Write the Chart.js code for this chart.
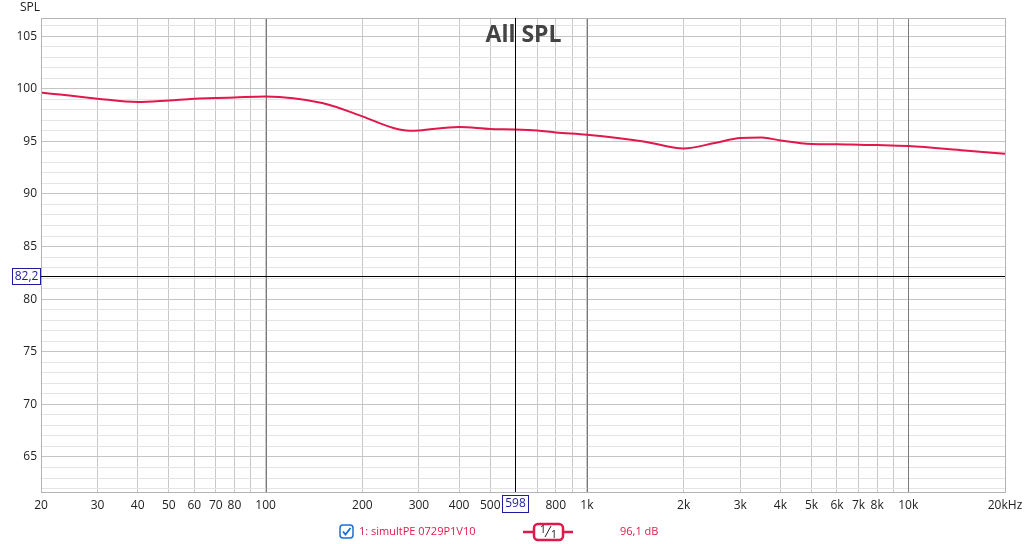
<!DOCTYPE html>
<html>
<head>
<meta charset="utf-8">
<script src="https://cdn.jsdelivr.net/npm/chart.js@4"></script>
<style>
  html, body { margin: 0; padding: 0; background: #fff; }
  canvas { display: block; }
</style>
</head>
<body>
<canvas id="c" width="1024" height="544"></canvas>
<script>
// ── Data ────────────────────────────────────────────────────────────────────
const freqs = [20, 30, 40, 50, 60, 70, 80, 100, 150, 200, 250, 280, 300, 400, 500, 598,
               700, 800, 1000, 1500, 2000, 2500, 3000, 3500, 4000, 5000, 6000, 7000, 8000,
               10000, 15000, 20000];
const spl   = [99.65, 99.05, 98.73, 98.89, 99.05, 99.11, 99.17, 99.27, 98.64, 97.37, 96.26, 96.0, 96.03, 96.36, 96.17, 96.13,
               96.03, 95.84, 95.62, 94.99, 94.32, 94.84, 95.31, 95.37, 95.08, 94.74, 94.71, 94.67, 94.64,
               94.55, 94.13, 93.82];

const xTicks  = [20, 30, 40, 50, 60, 70, 80, 90, 100, 200, 300, 400, 500, 600, 700, 800, 900,
                 1000, 2000, 3000, 4000, 5000, 6000, 7000, 8000, 9000, 10000, 20000];
const xLabels = ['20', '30', '40', '50', '60', '70', '80', '', '100', '200', '300', '400', '500', '', '', '800', '',
                 '1k', '2k', '3k', '4k', '5k', '6k', '7k', '8k', '', '10k', '20kHz'];
const yTicks  = [];
for (let v = 62; v <= 106; v++) yTicks.push(v);

const cursorX = 598;     // Hz
const cursorY = 82.2;    // dB
const seriesName = '1: simultPE 0729P1V10';
const cursorValue = '96,1 dB';
const RED = '#e0184c';
const FONT = '"Open Sans", "Noto Sans", sans-serif';

// ── Overlay: frame, decade lines, cursors, title, legend ────────────────────
const overlay = {
  id: 'overlay',
  beforeDatasetsDraw(chart) {
    const { ctx, chartArea: a, scales: { x } } = chart;
    ctx.save();
    ctx.strokeStyle = '#7a7a7a';
    ctx.lineWidth = 1;
    ctx.beginPath();
    [100, 1000, 10000].forEach(v => {
      const px = Math.round(x.getPixelForValue(v)) + 0.5;
      ctx.moveTo(px, a.top); ctx.lineTo(px, a.bottom);
    });
    ctx.stroke();
    ctx.restore();
  },
  afterDatasetsDraw(chart) {
    const { ctx, chartArea: a, scales: { x, y } } = chart;
    ctx.save();
    // frame
    ctx.strokeStyle = '#b4b4b4';
    ctx.lineWidth = 1;
    ctx.strokeRect(a.left + 0.5, a.top + 0.5, a.right - a.left, a.bottom - a.top);

    // cursors
    const cx = Math.round(x.getPixelForValue(cursorX)) + 0.5;
    const cy = Math.round(y.getPixelForValue(cursorY)) + 0.5;
    ctx.strokeStyle = '#000';
    ctx.beginPath();
    ctx.moveTo(cx, a.top); ctx.lineTo(cx, a.bottom);
    ctx.moveTo(a.left, cy); ctx.lineTo(a.right, cy);
    ctx.stroke();

    // title
    ctx.fillStyle = '#444';
    ctx.font = 'bold 23px ' + FONT;
    ctx.textAlign = 'center';
    ctx.textBaseline = 'middle';
    ctx.fillText('All SPL', cx + 8, 35);

    // axis name
    ctx.fillStyle = '#222';
    ctx.font = '12px ' + FONT;
    ctx.textAlign = 'left';
    ctx.fillText('SPL', 20, 8);

    // cursor boxes
    ctx.font = '12px ' + FONT;
    ctx.lineWidth = 1;
    ctx.strokeStyle = '#1c1ca0';
    ctx.fillStyle = '#fff';
    ctx.fillRect(12, cy - 8, 28, 16);
    ctx.strokeRect(12.5, cy - 8, 28, 16);
    ctx.fillStyle = '#1c1ca0';
    ctx.textAlign = 'center';
    ctx.fillText('82,2', 26.5, cy);
    ctx.fillStyle = '#fff';
    ctx.fillRect(cx - 13, 495, 26, 17);
    ctx.strokeRect(cx - 13, 495.5, 26, 17);
    ctx.fillStyle = '#1c1ca0';
    ctx.fillText('598', cx, 504);

    // legend: checkbox
    const ly = 532;
    ctx.strokeStyle = '#1a6fd6';
    ctx.lineWidth = 1.5;
    ctx.beginPath();
    ctx.roundRect(340, ly - 7, 13, 13, 3);
    ctx.stroke();
    ctx.lineWidth = 1.8;
    ctx.beginPath();
    ctx.moveTo(343, ly - 0.5); ctx.lineTo(345.5, ly + 2.5); ctx.lineTo(350.5, ly - 4);
    ctx.stroke();

    ctx.fillStyle = RED;
    ctx.textAlign = 'left';
    ctx.font = '11px ' + FONT;
    ctx.fillText(seriesName, 359, ly);

    // line sample with 1/1 smoothing box
    ctx.strokeStyle = RED;
    ctx.lineWidth = 2.5;
    ctx.beginPath();
    ctx.moveTo(523, ly); ctx.lineTo(573, ly);
    ctx.stroke();
    ctx.fillStyle = '#fff';
    ctx.beginPath();
    ctx.roundRect(534, ly - 8, 29, 16, 4);
    ctx.fill();
    ctx.stroke();
    ctx.fillStyle = '#222';
    ctx.font = '11px ' + FONT;
    ctx.textAlign = 'center';
    ctx.fillText('1', 543, ly - 2);
    ctx.fillText('1', 554, ly + 3);
    ctx.strokeStyle = '#222';
    ctx.lineWidth = 1;
    ctx.beginPath();
    ctx.moveTo(545, ly + 5); ctx.lineTo(551, ly - 6);
    ctx.stroke();

    ctx.fillStyle = RED;
    ctx.font = '11px ' + FONT;
    ctx.textAlign = 'left';
    ctx.fillText(cursorValue, 620, ly);
    ctx.restore();
  }
};

new Chart(document.getElementById('c'), {
  type: 'line',
  data: {
    datasets: [{
      data: freqs.map((f, i) => ({ x: f, y: spl[i] })),
      borderColor: RED,
      borderWidth: 2,
      pointRadius: 0,
      cubicInterpolationMode: 'monotone',
      fill: false
    }]
  },
  options: {
    responsive: false,
    devicePixelRatio: 1,
    animation: false,
    layout: { padding: { top: 18, right: 19, bottom: 22, left: 0 } },
    plugins: { legend: { display: false }, tooltip: { enabled: false } },
    scales: {
      x: {
        type: 'logarithmic',
        min: 20, max: 20000,
        afterBuildTicks: s => { s.ticks = xTicks.map(v => ({ value: v })); },
        afterFit: s => { s.height = 30; s.paddingLeft = 0; s.paddingRight = 0; },
        grid: {
          drawTicks: false,
          color: '#c8c8c8'
        },
        border: { display: false },
        ticks: {
          autoSkip: false, maxRotation: 0, padding: 6,
          color: '#222', font: { family: FONT, size: 12 },
          callback: v => { const i = xTicks.indexOf(v); return i >= 0 ? xLabels[i] : ''; }
        }
      },
      y: {
        min: 61.67, max: 106.72,
        afterBuildTicks: s => { s.ticks = yTicks.map(v => ({ value: v })); },
        afterFit: s => { s.width = 41; },
        grid: {
          drawTicks: false,
          color: c => (c.tick && c.tick.value % 5 === 0) ? '#c4c4c4' : '#e4e4e4'
        },
        border: { display: false },
        ticks: {
          autoSkip: false, padding: 4,
          color: '#222', font: { family: FONT, size: 12 },
          callback: v => v % 5 === 0 ? String(v) : ''
        }
      }
    }
  },
  plugins: [overlay]
});
</script>
</body>
</html>
